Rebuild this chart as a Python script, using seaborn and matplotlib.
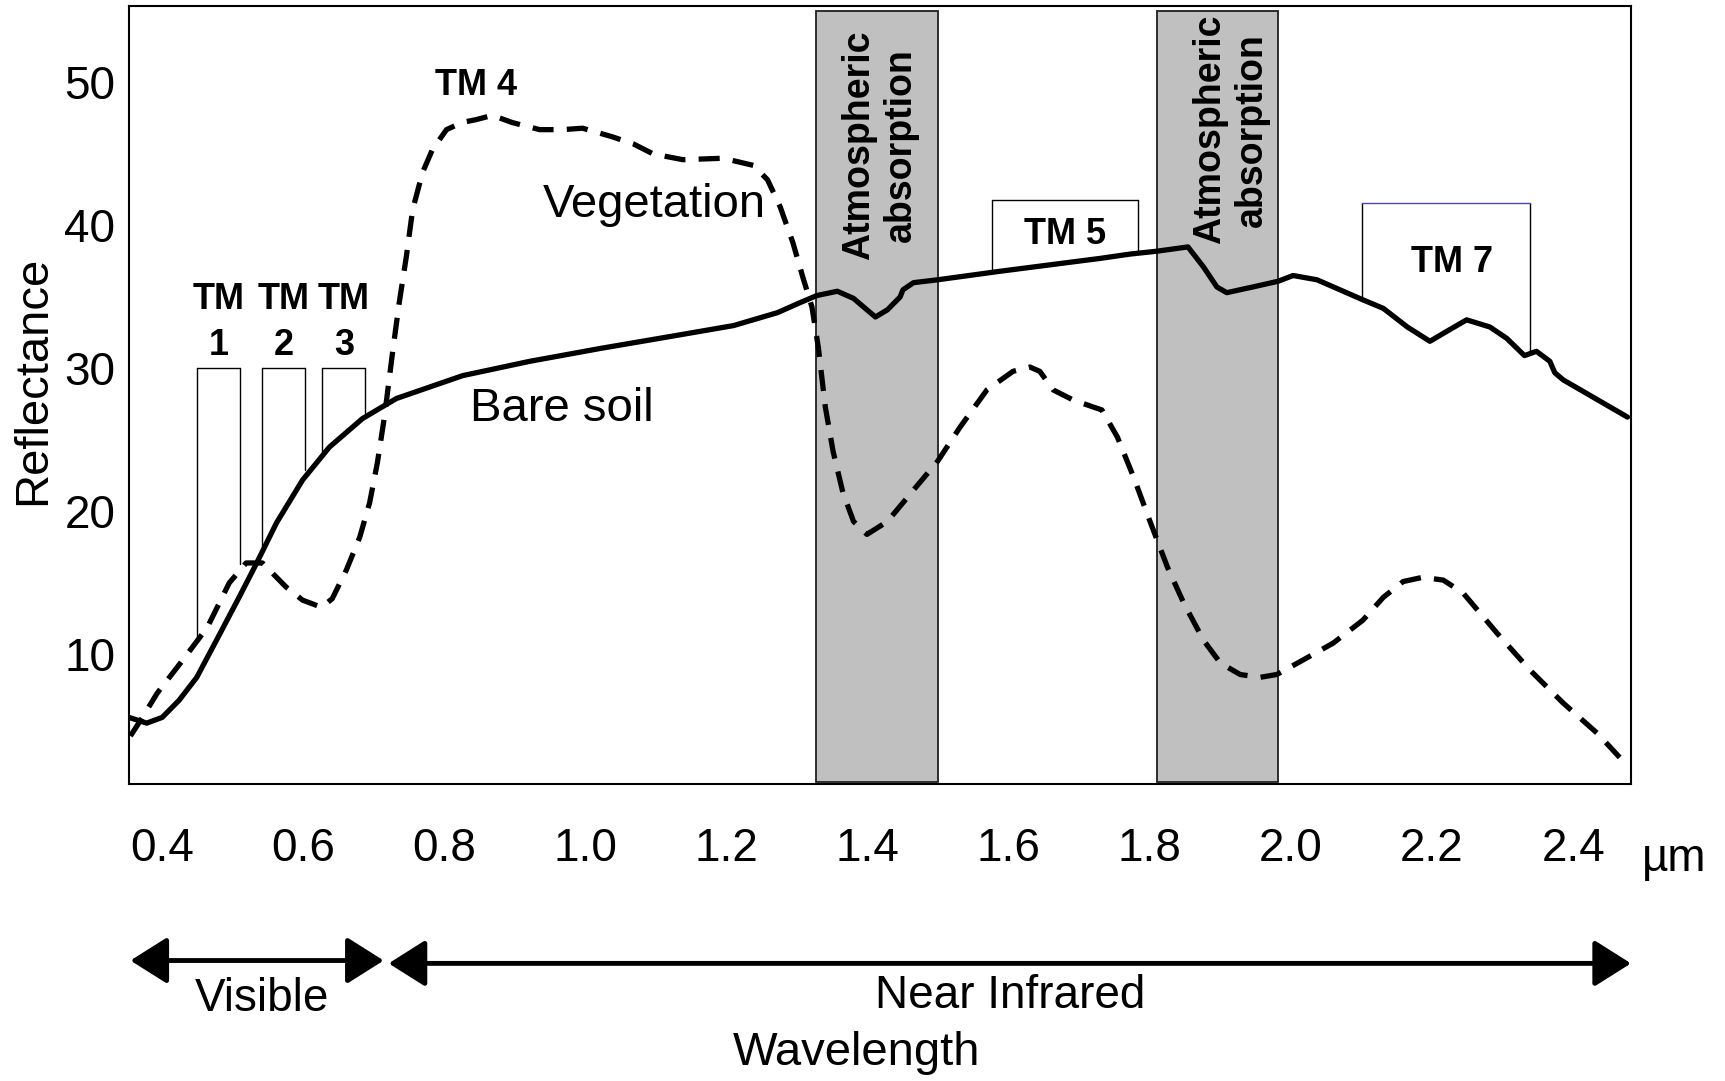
import pandas as pd
import matplotlib
matplotlib.use('Agg')
import matplotlib.pyplot as plt
from matplotlib.patches import Rectangle
import seaborn as sns

# curvas de reflectancia (µm, %)
soil_x = [0.353, 0.378, 0.400, 0.424, 0.449, 0.477, 0.509, 0.534, 0.562, 0.599,
          0.637, 0.684, 0.732, 0.779, 0.826, 0.921, 1.021, 1.116, 1.210, 1.272,
          1.304, 1.328, 1.357, 1.380, 1.399, 1.411, 1.428, 1.446, 1.450, 1.465,
          1.499, 1.588, 1.730, 1.772, 1.810, 1.854, 1.876, 1.895, 1.909, 1.946,
          1.982, 2.003, 2.037, 2.102, 2.131, 2.165, 2.197, 2.221, 2.249, 2.282,
          2.306, 2.331, 2.348, 2.367, 2.374, 2.386, 2.477]
soil_y = [5.6, 5.2, 5.6, 6.8, 8.4, 11.0, 14.0, 16.4, 19.2, 22.2,
          24.5, 26.5, 27.9, 28.7, 29.5, 30.5, 31.4, 32.2, 33.0, 33.9,
          34.6, 35.1, 35.4, 34.9, 34.1, 33.6, 34.1, 35.0, 35.5, 36.0,
          36.2, 36.8, 37.7, 38.0, 38.2, 38.5, 37.1, 35.7, 35.3, 35.7,
          36.1, 36.5, 36.2, 34.8, 34.2, 32.9, 31.9, 32.6, 33.4, 32.9,
          32.1, 30.9, 31.2, 30.5, 29.7, 29.2, 26.6]

veg_x = [0.355, 0.372, 0.393, 0.429, 0.464, 0.495, 0.519, 0.542, 0.576, 0.599,
         0.626, 0.641, 0.661, 0.680, 0.694, 0.705, 0.715, 0.727, 0.736, 0.746,
         0.755, 0.769, 0.783, 0.803, 0.825, 0.845, 0.868, 0.896, 0.935, 0.967,
         0.996, 1.038, 1.068, 1.096, 1.138, 1.195, 1.238, 1.258, 1.276, 1.294,
         1.308, 1.321, 1.330, 1.340, 1.351, 1.365, 1.380, 1.399, 1.428, 1.465,
         1.499, 1.531, 1.569, 1.606, 1.630, 1.644, 1.663, 1.691, 1.720, 1.732,
         1.754, 1.777, 1.801, 1.825, 1.848, 1.876, 1.900, 1.928, 1.956, 1.980,
         2.013, 2.060, 2.102, 2.131, 2.159, 2.187, 2.216, 2.244, 2.292, 2.339,
         2.386, 2.434, 2.466]
veg_y = [4.3, 5.6, 7.3, 9.6, 11.9, 15.0, 16.4, 16.4, 14.7, 13.8,
         13.3, 13.9, 15.9, 18.2, 20.6, 23.4, 26.6, 31.3, 34.6, 37.8,
         41.1, 43.7, 45.3, 46.7, 47.2, 47.4, 47.7, 47.2, 46.7, 46.7,
         46.8, 46.2, 45.7, 45.0, 44.6, 44.7, 44.2, 43.2, 41.3, 38.8,
         36.4, 34.3, 31.5, 27.3, 24.2, 21.3, 19.3, 18.4, 19.3, 21.5,
         23.5, 25.9, 28.5, 29.8, 30.1, 29.8, 28.5, 27.8, 27.3, 27.1,
         25.2, 22.4, 19.2, 16.1, 13.6, 11.0, 9.4, 8.6, 8.4, 8.6,
         9.5, 10.8, 12.4, 14.0, 15.1, 15.4, 15.2, 14.3, 11.5, 8.9,
         6.6, 4.5, 2.8]

# bandas de absorción atmosférica
band_lo = [1.327, 1.810]
band_hi = [1.500, 1.982]
band_bottom = [1.1, 1.1]
band_top = [55.0, 55.0]

# bandas Landsat TM
tm_names = ['1', '2', '3', '5', '7']
tm_lo = [0.450, 0.542, 0.627, 1.576, 2.101]
tm_hi = [0.511, 0.603, 0.688, 1.783, 2.339]
tm_top = [30.0, 30.0, 30.0, 41.8, 41.6]
tm_foot_lo = [11.2, 17.5, 24.2, 36.7, 35.0]
tm_foot_hi = [16.3, 22.9, 26.9, 38.1, 31.1]

x_ticks = [0.4, 0.6, 0.8, 1.0, 1.2, 1.4, 1.6, 1.8, 2.0, 2.2, 2.4]
y_ticks = [10, 20, 30, 40, 50]

sns.set_theme(style="white")
plt.rcParams['font.family'] = ['Liberation Sans', 'DejaVu Sans']
plt.rcParams['text.color'] = 'black'
plt.rcParams['axes.labelcolor'] = 'black'

fig = plt.figure(figsize=(17.25, 10.81), dpi=100)
ax = fig.add_axes([0.0748, 0.2747, 0.8707, 0.7198])

for lo, hi, b, t in zip(band_lo, band_hi, band_bottom, band_top):
    ax.add_patch(Rectangle((lo, b), hi - lo, t - b, facecolor='#c0c0c0',
                           edgecolor='#202020', lw=1.3, zorder=1))

df = pd.concat([
    pd.DataFrame({'wl': soil_x, 'refl': soil_y, 'surface': 'Bare soil'}),
    pd.DataFrame({'wl': veg_x, 'refl': veg_y, 'surface': 'Vegetation'}),
])

sns.lineplot(data=df[df.surface == 'Bare soil'], x='wl', y='refl', ax=ax,
             color='black', lw=3.8, estimator=None, sort=False, zorder=4,
             solid_joinstyle='round')
sns.lineplot(data=df[df.surface == 'Vegetation'], x='wl', y='refl', ax=ax,
             color='black', lw=3.8, estimator=None, sort=False, zorder=4,
             linestyle=(0, (4.0, 2.5)), dash_joinstyle='round')

# cajas TM
for i, name in enumerate(tm_names):
    top_col = '#4a4aa8' if name == '7' else 'black'
    ax.plot([tm_lo[i], tm_lo[i]], [tm_foot_lo[i], tm_top[i]], color='black', lw=1.0, zorder=3)
    ax.plot([tm_hi[i], tm_hi[i]], [tm_foot_hi[i], tm_top[i]], color='black', lw=1.0, zorder=3)
    ax.plot([tm_lo[i], tm_hi[i]], [tm_top[i], tm_top[i]], color=top_col, lw=1.0, zorder=3)

for i in range(3):
    cx = (tm_lo[i] + tm_hi[i]) / 2
    ax.text(cx, 34.8, 'TM', ha='center', va='center', fontsize=26, fontweight='bold')
    ax.text(cx, 31.6, tm_names[i], ha='center', va='center', fontsize=26, fontweight='bold')
ax.text((tm_lo[3] + tm_hi[3]) / 2, 39.4, 'TM 5', ha='center', va='center',
        fontsize=26, fontweight='bold')
ax.text(2.228, 37.4, 'TM 7', ha='center', va='center', fontsize=26, fontweight='bold')
ax.text(0.845, 49.8, 'TM 4', ha='center', va='center', fontsize=26, fontweight='bold')

ax.text(1.418, 45.6, 'Atmospheric\nabsorption', rotation=90, ha='center', va='center',
        fontsize=27, fontweight='bold', zorder=5)
ax.text(1.915, 46.7, 'Atmospheric\nabsorption', rotation=90, ha='center', va='center',
        fontsize=27, fontweight='bold', zorder=5)

ax.text(1.098, 41.4, 'Vegetation', ha='center', va='center', fontsize=34, zorder=5)
ax.text(0.966, 27.2, 'Bare soil', ha='center', va='center', fontsize=34, zorder=5)

ax.set_xlim(0.353, 2.482)
ax.set_ylim(0.94, 55.35)
ax.set_xticks(x_ticks)
ax.set_xticklabels([f'{v:.1f}' for v in x_ticks])
ax.set_yticks(y_ticks)
ax.tick_params(axis='x', length=0, pad=31, labelsize=33, colors='black')
ax.tick_params(axis='y', length=0, pad=10, labelsize=33, colors='black')
ax.set_xlabel('')
ax.set_ylabel('')
for sp in ax.spines.values():
    sp.set_color('black')
    sp.set_linewidth(1.5)

ax.text(0.217, 29.2, 'Reflectance', rotation=90, ha='center', va='center', fontsize=34,
        clip_on=False)
ax.text(2.543, -4.3, 'µm', ha='center', va='center', fontsize=33, clip_on=False)

# flechas de regiones espectrales
arrow = dict(arrowstyle='<|-|>,head_length=0.38,head_width=0.24', lw=3.5, color='black',
             mutation_scale=60, shrinkA=0, shrinkB=0)
ax.annotate('', xy=(0.355, -11.4), xytext=(0.714, -11.4), arrowprops=arrow,
            annotation_clip=False)
ax.annotate('', xy=(0.721, -11.6), xytext=(2.482, -11.6), arrowprops=arrow,
            annotation_clip=False)
ax.text(0.542, -14.1, 'Visible', ha='center', va='center', fontsize=33, clip_on=False)
ax.text(1.602, -13.9, 'Near Infrared', ha='center', va='center', fontsize=33, clip_on=False)
ax.text(1.384, -17.9, 'Wavelength', ha='center', va='center', fontsize=34, clip_on=False)

fig.savefig('out.png', dpi=100)
